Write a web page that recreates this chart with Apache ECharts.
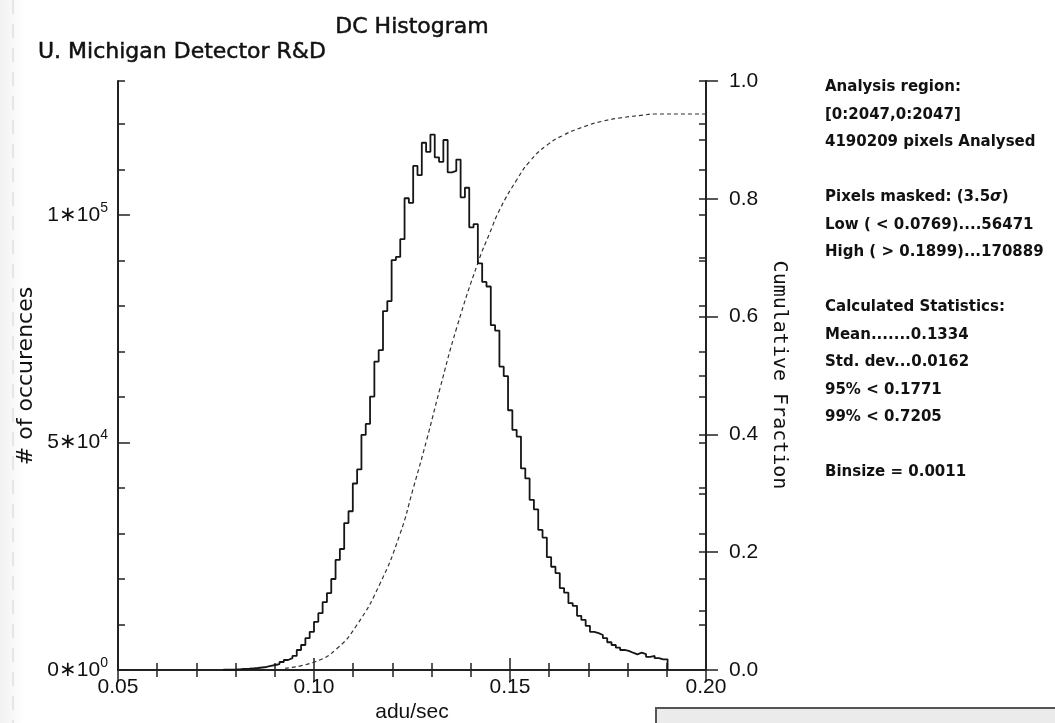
<!DOCTYPE html>
<html>
<head>
<meta charset="utf-8">
<title>DC Histogram</title>
<script src="https://cdn.jsdelivr.net/npm/echarts@6/dist/echarts.min.js"></script>
<style>
  html, body { margin: 0; padding: 0; background: #ffffff; }
  #chart { width: 1055px; height: 723px; }
</style>
</head>
<body>
<div id="chart"></div>
<script>
// Histogram binning (adu/sec)
const binStart = 0.0769;
const binSize = 0.0011;

// Pixel counts per bin, lowest bin first
const binCounts = [
  60, 90, 130, 180, 240, 300, 370, 440, 550, 660,
  900, 1100, 1300, 1760, 2200, 2600, 3100, 4400, 5500, 7000,
  8400, 10600, 12500, 14900, 16900, 20000, 24200, 26600, 32300, 34900,
  41000, 44100, 51700, 54100, 60100, 67800, 70300, 78900, 81100, 90100,
  90800, 94700, 103700, 102700, 110800, 108800, 115900, 113900, 117700, 112700,
  111700, 116500, 109400, 109700, 112200, 103900, 106000, 97300, 98000, 89400,
  85300, 84300, 75800, 74600, 66700, 64600, 57100, 52800, 51300, 44300,
  42100, 37400, 35300, 30800, 29100, 24800, 22700, 21300, 18000, 17000,
  14700, 14100, 11900, 11000, 9700, 8400, 8100, 7700, 7000, 6100,
  5500, 4900, 4400, 4200, 3800, 3450, 3800, 3500, 2900, 3100,
  2600, 2350, 2350
];

// Cumulative fraction of all pixels
const cumX = [0.0926, 0.1003, 0.1058, 0.1109, 0.1168, 0.1219, 0.1253, 0.1288, 0.1321, 0.1364,
              0.1419, 0.1449, 0.1474, 0.1517, 0.1551, 0.1594, 0.1636, 0.1687, 0.1738, 0.1789,
              0.1840, 0.1866, 0.2000];
const cumFrac = [0.003, 0.014, 0.036, 0.076, 0.146, 0.230, 0.308, 0.392, 0.477, 0.581,
                 0.693, 0.743, 0.782, 0.832, 0.864, 0.891, 0.908, 0.922, 0.932, 0.938,
                 0.942, 0.944, 0.944];

// Tick labels
const xTickValues = [0.05, 0.10, 0.15, 0.20];
const xTickLabels = ['0.05', '0.10', '0.15', '0.20'];
const countTickValues = [0, 50000, 100000];
const countTickMantissa = ['0', '5', '1'];
const countTickExponent = ['0', '4', '5'];
const fracTickValues = [0, 0.2, 0.4, 0.6, 0.8, 1.0];
const fracTickLabels = ['0.0', '0.2', '0.4', '0.6', '0.8', '1.0'];

// Statistics panel
const statLines = [
  'Analysis region:',
  '[0:2047,0:2047]',
  '4190209 pixels Analysed',
  '',
  'Pixels masked: (3.5{i|σ})',
  'Low ( < 0.0769)....56471',
  'High ( > 0.1899)...170889',
  '',
  'Calculated Statistics:',
  'Mean.......0.1334',
  'Std. dev...0.0162',
  '95% < 0.1771',
  '99% < 0.7205',
  '',
  'Binsize = 0.0011'
];

// Step outline: one point per bin left edge, closed at the upper edge of the last bin
const histPoints = [];
binCounts.forEach(function (c, k) {
  histPoints.push([+(binStart + k * binSize).toFixed(5), c]);
});
const lastEdge = +(binStart + binCounts.length * binSize).toFixed(5);
histPoints.push([lastEdge, binCounts[binCounts.length - 1]]);
histPoints.push([lastEdge, 0]);

const cumPoints = cumX.map(function (x, i) { return [x, cumFrac[i]]; });

const countMax = 129470;
const ink = '#222';
const tickFont = 'Liberation Sans, Arial, sans-serif';

function near(v, list) {
  for (let i = 0; i < list.length; i++) {
    if (Math.abs(v - list[i]) < 1e-6 * Math.max(1, Math.abs(list[i]))) return i;
  }
  return -1;
}

const frameLine = { show: true, lineStyle: { color: ink, width: 2 } };

const chart = echarts.init(document.getElementById('chart'), null, { renderer: 'canvas' });

const statGraphics = [];
statLines.forEach(function (line, i) {
  if (!line) return;
  statGraphics.push({
    type: 'text',
    x: 825,
    y: 87.5 + i * 27.5,
    silent: true,
    style: {
      text: line,
      fill: '#111',
      font: 'bold 15px "DejaVu Sans", sans-serif',
      verticalAlign: 'middle',
      rich: { i: { font: 'italic bold 15px "DejaVu Sans", sans-serif', fill: '#111' } }
    }
  });
});

const option = {
  backgroundColor: '#ffffff',
  animation: false,
  grid: { left: 118, right: 349, top: 81, bottom: 53, outerBoundsMode: 'none' },
  xAxis: [
    {
      type: 'value', position: 'bottom', min: 0.05, max: 0.20, interval: 0.05,
      axisLine: frameLine,
      axisTick: { show: true, inside: true, length: 12, lineStyle: { color: ink, width: 1.5 } },
      minorTick: { show: true, splitNumber: 5, length: 7, lineStyle: { color: ink, width: 1.5 } },
      splitLine: { show: false },
      axisLabel: {
        show: true, margin: 7, color: '#111', fontSize: 21, fontFamily: tickFont,
        showMinLabel: true, showMaxLabel: true,
        formatter: function (v) { const i = near(v, xTickValues); return i < 0 ? '' : xTickLabels[i]; }
      }
    },
    {
      type: 'value', position: 'top', min: 0.05, max: 0.20, interval: 0.05,
      axisLine: frameLine,
      axisTick: { show: true, inside: true, length: 12, lineStyle: { color: ink, width: 1.5 } },
      minorTick: { show: true, splitNumber: 5, length: 7, lineStyle: { color: ink, width: 1.5 } },
      splitLine: { show: false },
      axisLabel: { show: false }
    }
  ],
  yAxis: [
    {
      type: 'value', position: 'left', min: 0, max: countMax, interval: 50000,
      axisLine: frameLine,
      axisTick: { show: true, inside: true, length: 12, lineStyle: { color: ink, width: 1.5 } },
      splitLine: { show: false },
      axisLabel: {
        show: true, margin: 10, showMinLabel: true, showMaxLabel: false,
        formatter: function (v) {
          const i = near(v, countTickValues);
          if (i < 0) return '';
          return '{b|' + countTickMantissa[i] + '∗10}{s|' + countTickExponent[i] + '}';
        },
        rich: {
          b: { fontSize: 21, fontFamily: tickFont, color: '#111', lineHeight: 28 },
          s: { fontSize: 14, fontFamily: tickFont, color: '#111', lineHeight: 14, verticalAlign: 'top' }
        }
      }
    },
    {
      type: 'value', position: 'right', min: 0, max: 1, interval: 0.2,
      axisLine: frameLine,
      axisTick: { show: true, inside: false, length: 12, lineStyle: { color: ink, width: 1.5 } },
      splitLine: { show: false },
      axisLabel: {
        show: true, margin: 23, color: '#111', fontSize: 21, fontFamily: tickFont,
        showMinLabel: true, showMaxLabel: true,
        formatter: function (v) { const i = near(v, fracTickValues); return i < 0 ? '' : fracTickLabels[i]; }
      }
    },
    {
      type: 'value', position: 'right', min: 0, max: 1, interval: 0.1,
      axisLine: { show: false },
      axisTick: { show: true, inside: true, length: 7, lineStyle: { color: ink, width: 1.5 } },
      splitLine: { show: false },
      axisLabel: { show: false }
    },
    {
      type: 'value', position: 'right', min: 0, max: countMax, interval: 10000,
      axisLine: { show: false },
      axisTick: { show: true, inside: true, length: 7, lineStyle: { color: ink, width: 1.5 } },
      splitLine: { show: false },
      axisLabel: { show: false }
    },
    {
      type: 'value', position: 'left', min: 0, max: countMax, interval: 10000,
      axisLine: { show: false },
      axisTick: { show: true, inside: true, length: 7, lineStyle: { color: ink, width: 1.5 } },
      splitLine: { show: false },
      axisLabel: { show: false }
    }
  ],
  series: [
    {
      name: 'Cumulative Fraction',
      type: 'line',
      xAxisIndex: 0,
      yAxisIndex: 1,
      data: cumPoints,
      smooth: 0.5,
      symbol: 'none',
      silent: true,
      lineStyle: { color: '#333', width: 1.2, type: [4, 3] },
      z: 2
    },
    {
      name: '# of occurences',
      type: 'line',
      xAxisIndex: 0,
      yAxisIndex: 0,
      data: histPoints,
      step: 'end',
      symbol: 'none',
      silent: true,
      lineStyle: { color: '#151515', width: 1.8 },
      z: 3
    }
  ],
  graphic: [
    {
      type: 'rect', left: 0, top: 0, z: -10, silent: true,
      shape: { width: 24, height: 723 },
      style: {
        fill: {
          type: 'linear', x: 0, y: 0, x2: 1, y2: 0,
          colorStops: [{ offset: 0, color: 'rgba(215,215,215,0.35)' }, { offset: 1, color: 'rgba(215,215,215,0)' }]
        }
      }
    },
    {
      type: 'line', z: -9, silent: true,
      shape: { x1: 13, y1: 0, x2: 13, y2: 723 },
      style: { stroke: 'rgba(200,200,200,0.5)', lineWidth: 1.5, lineDash: [14, 10] }
    },
    {
      type: 'text', x: 412, y: 27, silent: true,
      style: {
        text: 'DC Histogram', fill: '#111', font: '22px "DejaVu Sans", sans-serif',
        align: 'center', verticalAlign: 'middle', stroke: '#111', lineWidth: 0.5
      }
    },
    {
      type: 'text', x: 38, y: 52, silent: true,
      style: {
        text: 'U. Michigan Detector R&D', fill: '#111', font: '22px "DejaVu Sans", sans-serif',
        align: 'left', verticalAlign: 'middle', stroke: '#111', lineWidth: 0.5
      }
    },
    {
      type: 'text', x: 412, y: 712, silent: true,
      style: { text: 'adu/sec', fill: '#111', font: '21px "Liberation Sans", Arial, sans-serif', align: 'center', verticalAlign: 'middle' }
    },
    {
      type: 'text', x: 26, y: 376, rotation: Math.PI / 2, silent: true,
      style: { text: '# of occurences', fill: '#111', font: '22px "DejaVu Sans", sans-serif', align: 'center', verticalAlign: 'middle' }
    },
    {
      type: 'text', x: 779, y: 375, rotation: -Math.PI / 2, silent: true,
      style: { text: 'Cumulative Fraction', fill: '#111', font: '20px "DejaVu Sans Mono", monospace', align: 'center', verticalAlign: 'middle' }
    },
    {
      type: 'rect', left: 655, top: 707, silent: true, z: 5,
      shape: { width: 420, height: 40 },
      style: { fill: '#ebebeb', stroke: '#555', lineWidth: 2 }
    }
  ].concat(statGraphics)
};

chart.setOption(option);
</script>
</body>
</html>
